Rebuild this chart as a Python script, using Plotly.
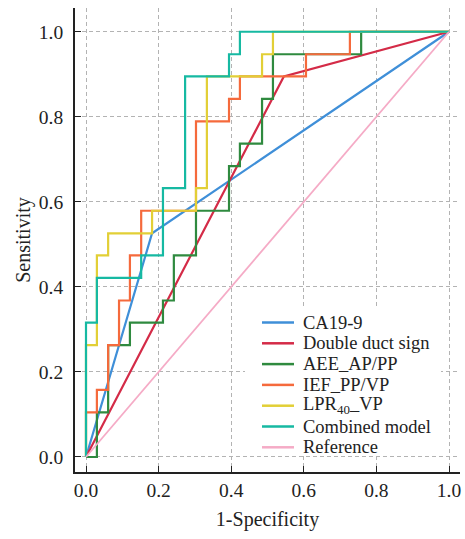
import plotly.graph_objects as go

# ---- data (ROC vertices) ----
ca199_fpr = [0, 0.182, 1]
ca199_tpr = [0, 0.526, 1]

ddsign_fpr = [0, 0.545, 1]
ddsign_tpr = [0, 0.895, 1]

aee_fpr = [0, 0.030, 0.030, 0.061, 0.061, 0.121, 0.121, 0.212, 0.212, 0.242, 0.242,
           0.303, 0.303, 0.394, 0.394, 0.424, 0.424, 0.485, 0.485, 0.515, 0.515,
           0.758, 0.758, 1]
aee_tpr = [0, 0, 0.105, 0.105, 0.263, 0.263, 0.316, 0.316, 0.368, 0.368, 0.474,
           0.474, 0.579, 0.579, 0.684, 0.684, 0.737, 0.737, 0.842, 0.842, 0.947,
           0.947, 1, 1]

ief_fpr = [0, 0, 0.030, 0.030, 0.061, 0.061, 0.091, 0.091, 0.121, 0.121, 0.152,
           0.152, 0.303, 0.303, 0.394, 0.394, 0.424, 0.424, 0.606, 0.606, 0.727,
           0.727, 1]
ief_tpr = [0, 0.105, 0.105, 0.158, 0.158, 0.263, 0.263, 0.368, 0.368, 0.474, 0.474,
           0.579, 0.579, 0.789, 0.789, 0.842, 0.842, 0.895, 0.895, 0.947, 0.947,
           1, 1]

lpr_fpr = [0, 0, 0.030, 0.030, 0.061, 0.061, 0.182, 0.182, 0.303, 0.303, 0.333,
           0.333, 0.485, 0.485, 0.515, 0.515, 1]
lpr_tpr = [0, 0.263, 0.263, 0.474, 0.474, 0.526, 0.526, 0.579, 0.579, 0.632, 0.632,
           0.895, 0.895, 0.947, 0.947, 1, 1]

comb_fpr = [0, 0, 0.030, 0.030, 0.152, 0.152, 0.212, 0.212, 0.273, 0.273, 0.394,
            0.394, 0.424, 0.424, 1]
comb_tpr = [0, 0.316, 0.316, 0.421, 0.421, 0.474, 0.474, 0.632, 0.632, 0.895, 0.895,
            0.947, 0.947, 1, 1]

ref_fpr = [0, 1]
ref_tpr = [0, 1]

names = ["CA19-9", "Double duct sign", "AEE_AP/PP", "IEF_PP/VP",
         "LPR<sub>40</sub>_VP", "Combined model", "Reference"]
colors = ["#3f8fd8", "#d42b47", "#2f8a3f", "#f56a3c", "#e2cf36", "#16b9a2", "#f5abc6"]
series = [(ca199_fpr, ca199_tpr), (ddsign_fpr, ddsign_tpr), (aee_fpr, aee_tpr),
          (ief_fpr, ief_tpr), (lpr_fpr, lpr_tpr), (comb_fpr, comb_tpr),
          (ref_fpr, ref_tpr)]
tick_vals = [0, 0.2, 0.4, 0.6, 0.8, 1.0]

FONT = "Liberation Serif"
W, H = 465, 539
ML, MR, MT, MB = 75, 5, 8, 67

fig = go.Figure()
for (xs, ys), name, col in zip(series, names, colors):
    fig.add_trace(go.Scatter(x=xs, y=ys, mode="lines", name=name,
                             line=dict(color=col, width=2.2 if name != "Reference" else 1.8),
                             showlegend=False))

# manual legend (compact row spacing as in reference)
pw, ph = W - ML - MR, H - MT - MB
def px2paper(px, py):
    return (px - ML) / pw, (H - MB - py) / ph

shapes = []
x0, y0 = px2paper(245, 306)
x1, y1 = px2paper(441, 455)
shapes.append(dict(type="rect", xref="paper", yref="paper", x0=x0, x1=x1, y0=y1, y1=y0,
                   fillcolor="white", line=dict(width=0), layer="above"))
annotations = []
for i, (name, col) in enumerate(zip(names, colors)):
    cy = 322.5 + 20.8 * i
    lx0, ly = px2paper(262, cy)
    lx1, _ = px2paper(294, cy)
    tx, _ = px2paper(301, cy)
    shapes.append(dict(type="line", xref="paper", yref="paper", x0=lx0, x1=lx1, y0=ly, y1=ly,
                       line=dict(color=col, width=2.5), layer="above"))
    annotations.append(dict(xref="paper", yref="paper", x=tx, y=ly, text=name,
                            showarrow=False, xanchor="left", yanchor="middle",
                            font=dict(family=FONT, size=18.5, color="#222")))

axis_common = dict(
    tickvals=tick_vals, tickformat=".1f", ticks="inside", ticklen=6, tickwidth=1.3,
    tickcolor="#222", showline=True, linecolor="#222", linewidth=1.8,
    showgrid=True, gridcolor="#b3b3b3", griddash="4px,3px", gridwidth=1.2,
    zeroline=False, tickfont=dict(family=FONT, size=19.5, color="#222"),
    automargin=False,
)

fig.update_layout(
    width=W, height=H, margin=dict(l=ML, r=MR, t=MT, b=MB),
    paper_bgcolor="white", plot_bgcolor="white",
    font=dict(family=FONT),
    xaxis=dict(range=[-0.0303, 1.0303], title=dict(text="1-Specificity", standoff=12,
               font=dict(family=FONT, size=20, color="#222")), **axis_common),
    yaxis=dict(range=[-0.0353, 1.0558], title=dict(text="Sensitivity", standoff=3,
               font=dict(family=FONT, size=20, color="#222")), **axis_common),
    shapes=shapes, annotations=annotations,
)
fig.update_xaxes(ticklabelstandoff=0)
fig.update_yaxes(ticklabelstandoff=6)

fig.write_html("out.html", config={"displayModeBar": False},
               post_script="document.body.style.margin='0';document.body.style.overflow='hidden';")
